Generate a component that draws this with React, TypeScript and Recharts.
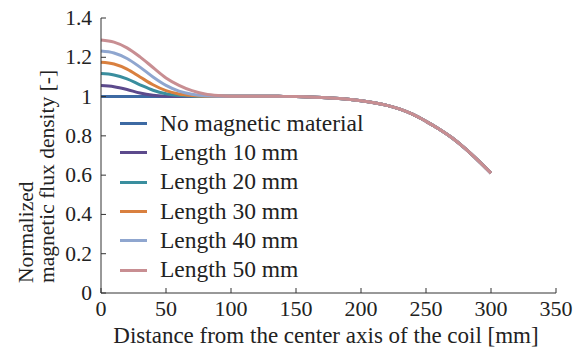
import React from 'react';
import { LineChart, Line, XAxis, YAxis } from 'recharts';

const distance = [0, 10, 20, 30, 40, 50, 60, 70, 80, 90, 100, 110, 120, 130, 140, 150, 160, 170, 180, 190, 200, 210, 220, 230, 240, 250, 260, 270, 280, 290, 300];

const noMaterial = [1.0, 1.0, 1.0, 1.0, 1.0, 1.0, 1.0, 1.001, 1.001, 1.002, 1.002, 1.002, 1.002, 1.002, 1.001, 1.0, 0.998, 0.995, 0.991, 0.986, 0.979, 0.969, 0.955, 0.936, 0.909, 0.874, 0.835, 0.79, 0.736, 0.675, 0.61];
const len10 = [1.056, 1.05, 1.036, 1.018, 1.007, 1.002, 1.0, 1.001, 1.001, 1.002];
const len20 = [1.117, 1.11, 1.09, 1.06, 1.032, 1.014, 1.005, 1.002, 1.001, 1.002];
const len30 = [1.175, 1.166, 1.14, 1.1, 1.06, 1.03, 1.013, 1.005, 1.002, 1.002];
const len40 = [1.232, 1.222, 1.194, 1.15, 1.1, 1.057, 1.028, 1.012, 1.004, 1.002];
const len50 = [1.288, 1.277, 1.248, 1.202, 1.148, 1.095, 1.057, 1.03, 1.013, 1.005];

const series = [
  { key: 'none', name: 'No magnetic material', color: '#3d6aa3', near: noMaterial },
  { key: 'l10', name: 'Length 10 mm', color: '#5c4a8c', near: len10 },
  { key: 'l20', name: 'Length 20 mm', color: '#3a8e9e', near: len20 },
  { key: 'l30', name: 'Length 30 mm', color: '#d9803f', near: len30 },
  { key: 'l40', name: 'Length 40 mm', color: '#8fa6cf', near: len40 },
  { key: 'l50', name: 'Length 50 mm', color: '#c88e92', near: len50 },
];

const xTicks = [0, 50, 100, 150, 200, 250, 300, 350];
const yTicks = [0, 0.2, 0.4, 0.6, 0.8, 1, 1.2, 1.4];

const data = distance.map((d, i) => {
  const row: Record<string, number> = { d };
  series.forEach(s => {
    row[s.key] = i < s.near.length ? s.near[i] : noMaterial[i];
  });
  return row;
});

const font = '"Liberation Serif", "Times New Roman", serif';
const ink = '#222';

const XTick = (p: any) => (
  <text x={p.x} y={p.y} dy={16} textAnchor="middle" fontFamily={font} fontSize={22} fill={ink}>
    {p.payload.value}
  </text>
);

const YTick = (p: any) => (
  <text x={p.x} y={p.y} dy={7} textAnchor="end" fontFamily={font} fontSize={21.5} fill={ink}>
    {p.payload.value}
  </text>
);

export default function App() {
  return (
    <div style={{ position: 'absolute', left: 0, top: 0, width: 581, height: 347, background: '#fff', fontFamily: font }}>
      <LineChart width={581} height={347} data={data} margin={{ top: 18, right: 25, bottom: 0, left: 0 }}>
        <XAxis
          dataKey="d"
          type="number"
          domain={[0, 350]}
          ticks={xTicks}
          height={54}
          tickSize={-5}
          tickMargin={12}
          stroke="#333"
          tick={<XTick />}
          label={{
            content: () => (
              <text x={326} y={342.5} textAnchor="middle" fontFamily={font} fontSize={23} fill={ink}>
                Distance from the center axis of the coil [mm]
              </text>
            ),
          }}
        />
        <YAxis
          type="number"
          domain={[0, 1.4]}
          ticks={yTicks}
          width={101}
          tickSize={-5}
          tickMargin={14}
          stroke="#333"
          tick={<YTick />}
          label={{
            content: () => (
              <g fontFamily={font} fontSize={21.5} fill={ink}>
                <text transform="translate(33,283) rotate(-90)" textAnchor="start">Normalized</text>
                <text transform="translate(54,283) rotate(-90)" textAnchor="start">magnetic flux density [-]</text>
              </g>
            ),
          }}
        />
        {series.map(s => (
          <Line
            key={s.key}
            dataKey={s.key}
            name={s.name}
            type="monotone"
            stroke={s.color}
            strokeWidth={3}
            dot={false}
            isAnimationActive={false}
          />
        ))}
      </LineChart>
      <div style={{ position: 'absolute', left: 120, top: 109, fontSize: 23.5, color: ink, lineHeight: 1 }}>
        {series.map(s => (
          <div key={s.key} style={{ display: 'flex', alignItems: 'center', height: 29.3, whiteSpace: 'nowrap' }}>
            <span style={{ display: 'inline-block', width: 27, height: 3, background: s.color, marginRight: 13 }} />
            <span>{s.name}</span>
          </div>
        ))}
      </div>
    </div>
  );
}
